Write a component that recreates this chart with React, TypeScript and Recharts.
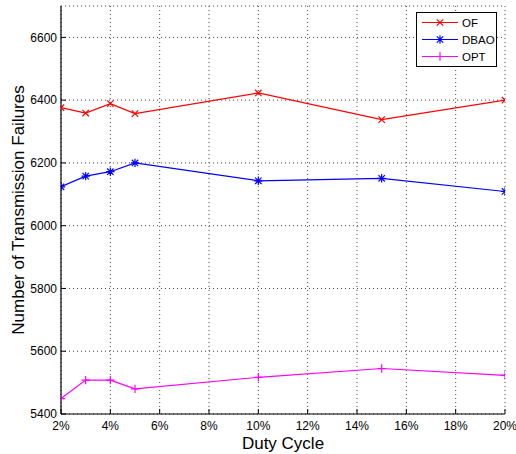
import { LineChart, Line, XAxis, YAxis, CartesianGrid, Legend, Label } from 'recharts'

const dutyCycle = [2, 3, 4, 5, 10, 15, 20]
const ofFailures = [6376, 6359, 6389, 6357, 6423, 6338, 6400]
const dbaoFailures = [6124, 6158, 6172, 6200, 6143, 6151, 6109]
const optFailures = [5449, 5508, 5508, 5480, 5517, 5545, 5523]

const xTicks = [2, 4, 6, 8, 10, 12, 14, 16, 18, 20]
const yTicks = [5400, 5600, 5800, 6000, 6200, 6400, 6600]

const seriesNames = ['OF', 'DBAO', 'OPT']
const seriesColors = ['#ff0000', '#0000ff', '#ff00ff']

const data = dutyCycle.map((d, i) => ({
  x: d,
  of: ofFailures[i],
  dbao: dbaoFailures[i],
  opt: optFailures[i],
}))

type MarkerKind = 'x' | 'star' | 'plus'
const markerKinds: MarkerKind[] = ['x', 'star', 'plus']

function Marker({ cx, cy, kind, color }: { cx: number; cy: number; kind: MarkerKind; color: string }) {
  const d = 3.2
  const p = 4.2
  const diag = `M${cx - d},${cy - d}L${cx + d},${cy + d}M${cx - d},${cy + d}L${cx + d},${cy - d}`
  const plus = `M${cx - p},${cy}L${cx + p},${cy}M${cx},${cy - p}L${cx},${cy + p}`
  const path = kind === 'x' ? diag : kind === 'plus' ? plus : diag + plus
  return <path d={path} stroke={color} strokeWidth={1.2} fill="none" />
}

function makeDot(kind: MarkerKind, color: string) {
  return (props: any) => {
    const { cx, cy, index } = props
    if (cx == null || cy == null) return <g key={index} />
    return <Marker key={index} cx={cx} cy={cy} kind={kind} color={color} />
  }
}

function LegendBox() {
  const rows = [10.5, 27.5, 44.5]
  return (
    <svg width={81} height={55} style={{ display: 'block' }}>
      <rect x={0.5} y={0.5} width={80} height={54} fill="#fff" stroke="#000" strokeWidth={1} />
      {seriesNames.map((name, i) => (
        <g key={name}>
          <line x1={6} x2={42} y1={rows[i]} y2={rows[i]} stroke={seriesColors[i]} strokeWidth={1.2} />
          <Marker cx={24} cy={rows[i]} kind={markerKinds[i]} color={seriesColors[i]} />
          <text x={46} y={rows[i] + 4} fontSize={11.5} fill="#000">
            {name}
          </text>
        </g>
      ))}
    </svg>
  )
}

export default function App() {
  return (
    <div style={{ position: 'absolute', left: 0, top: 0, background: '#fff' }}>
      <LineChart
        width={516}
        height={454}
        data={data}
        margin={{ top: 6, right: 11, left: 0, bottom: 0 }}
        style={{ fontFamily: '"Liberation Sans", Arial, Helvetica, sans-serif' }}
      >
        <CartesianGrid stroke="#444" strokeDasharray="1 3" />
        <XAxis
          dataKey="x"
          type="number"
          domain={[2, 20]}
          ticks={xTicks}
          allowDataOverflow
          tickFormatter={(v) => `${v}%`}
          height={40}
          tickSize={-5}
          tickMargin={12}
          axisLine={{ stroke: '#000', strokeWidth: 1.2 }}
          tickLine={{ stroke: '#000' }}
          tick={{ fill: '#000', fontSize: 12 }}
        >
          <Label value="Duty Cycle" position="insideBottom" offset={5} fill="#000" fontSize={17} />
        </XAxis>
        <XAxis
          xAxisId="top"
          dataKey="x"
          type="number"
          orientation="top"
          domain={[2, 20]}
          ticks={xTicks}
          allowDataOverflow
          height={0}
          tickSize={-5}
          tickFormatter={() => ''}
          axisLine={{ stroke: '#000', strokeWidth: 1.2 }}
          tickLine={{ stroke: '#000' }}
        />
        <YAxis
          type="number"
          domain={[5400, 6700]}
          ticks={yTicks}
          allowDataOverflow
          width={61}
          tickSize={-5}
          tickMargin={9}
          axisLine={{ stroke: '#000', strokeWidth: 1.2 }}
          tickLine={{ stroke: '#000' }}
          tick={{ fill: '#000', fontSize: 12 }}
        >
          <Label
            value="Number of Transmission Failures"
            angle={-90}
            position="insideLeft"
            offset={18}
            fill="#000"
            fontSize={17}
            style={{ textAnchor: 'middle' }}
          />
        </YAxis>
        <YAxis
          yAxisId="right"
          orientation="right"
          type="number"
          domain={[5400, 6700]}
          ticks={yTicks}
          allowDataOverflow
          width={0}
          tickSize={-5}
          tickFormatter={() => ''}
          axisLine={{ stroke: '#000', strokeWidth: 1.2 }}
          tickLine={{ stroke: '#000' }}
        />
        <Legend
          layout="vertical"
          align="center"
          verticalAlign="middle"
          content={() => <LegendBox />}
          wrapperStyle={{ position: 'absolute', left: 416, top: 12, width: 81, height: 55 }}
        />
        <Line
          dataKey="of"
          name="OF"
          stroke={seriesColors[0]}
          strokeWidth={1.2}
          dot={makeDot('x', seriesColors[0])}
          activeDot={false}
          isAnimationActive={false}
        />
        <Line
          dataKey="dbao"
          name="DBAO"
          stroke={seriesColors[1]}
          strokeWidth={1.2}
          dot={makeDot('star', seriesColors[1])}
          activeDot={false}
          isAnimationActive={false}
        />
        <Line
          dataKey="opt"
          name="OPT"
          stroke={seriesColors[2]}
          strokeWidth={1.2}
          dot={makeDot('plus', seriesColors[2])}
          activeDot={false}
          isAnimationActive={false}
        />
      </LineChart>
    </div>
  )
}
